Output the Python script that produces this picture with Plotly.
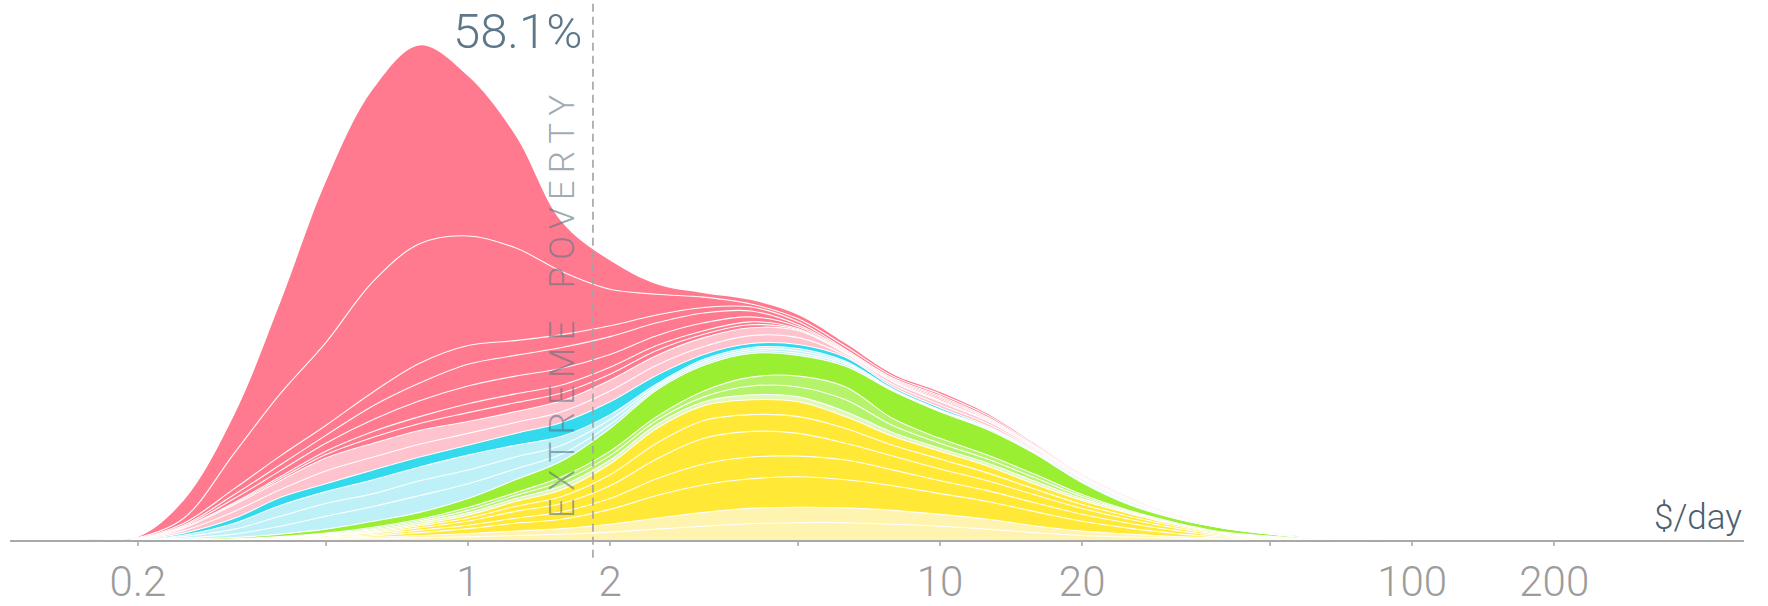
import math
import plotly.graph_objects as go

# ---------------- data ----------------
# income levels ($/day) where the stacked boundaries were read (evenly spaced on the log axis)
X = [0.13, 0.16, 0.2, 0.25, 0.32, 0.4, 0.5, 0.63, 0.79, 1.0, 1.26, 1.58, 2.0, 2.51, 3.16, 3.98, 5.01,
     6.31, 7.94, 10, 12.6, 15.8, 20, 25.1, 31.6, 39.8, 50.1, 63.1, 79.4, 100]

# cumulative heights of the stacked boundaries (bottom -> top), arbitrary density units
PALE_YELLOW_L1 = [0, 0, 0, 0.02, 0.07, 0.25, 0.7, 1.3, 2.2, 3.2, 4.5, 5.8, 8, 11, 14, 16.5, 17.5,
                  17.5, 16, 14, 11, 7.5, 4.5, 3, 1.7, 1, 0.35, 0.1, 0, 0]
PALE_YELLOW_TOP = [0, 0, 0, 0.05, 0.15, 0.5, 1.5, 2.8, 4.5, 6.5, 9, 11.5, 16, 22, 28, 32, 33,
                   32.5, 30, 26, 21, 14.5, 9, 6, 3.5, 2, 0.7, 0.2, 0, 0]
YELLOW_L3 = [0, 0, 0, 0.1, 0.25, 0.8, 2.2, 4.2, 7.5, 11.5, 17, 21, 31, 45, 56, 62, 64,
             61, 55, 47, 39, 29, 19, 12, 6.5, 3, 1, 0.3, 0, 0]
YELLOW_L2 = [0, 0, 0, 0.15, 0.35, 1.1, 3, 5.5, 10, 15, 22, 28.5, 42, 62, 77, 84, 85,
             81, 71, 60, 50, 38, 26, 17, 9.5, 4, 1.3, 0.4, 0, 0]
YELLOW_L1 = [0, 0, 0, 0.2, 0.5, 1.5, 4, 7, 12.5, 19, 29, 37, 55, 82, 103, 110, 108,
             98, 85, 72, 60, 46, 32, 21, 12, 5, 1.7, 0.5, 0, 0]
YELLOW_L0 = [0, 0, 0, 0.25, 0.6, 1.8, 4.5, 8, 14.5, 22, 34, 44, 66, 98, 121, 127, 125,
             113, 96, 82, 68, 52, 36, 24, 14, 6, 2.1, 0.6, 0.05, 0]
YELLOW_TOP = [0, 0, 0, 0.3, 0.7, 2, 5, 9, 16, 25, 39, 51, 77, 113, 136, 142, 140,
              125, 105, 90, 75, 57, 40, 27, 15.5, 7, 2.5, 0.7, 0.1, 0]
PALE_GREEN_TOP = [0, 0, 0, 0.35, 0.85, 2.5, 5.7, 10.5, 18, 27.5, 42, 55, 81, 117, 140, 147, 145,
                  130, 109, 93, 78, 60, 42, 28.5, 16.5, 7.5, 2.8, 0.8, 0.12, 0]
GREEN_L1 = [0, 0, 0, 0.42, 1.0, 3, 6.3, 11.7, 19.5, 30, 45, 59.5, 85.5, 121, 145, 156, 155,
            142, 116, 98, 82, 63.5, 44, 29.3, 17, 7.8, 3.4, 0.9, 0.15, 0]
GREEN_SOLID_BOTTOM = [0, 0, 0, 0.5, 1.2, 3.5, 7, 13, 21, 33, 48, 64, 90, 125, 151, 165, 166,
                      155, 123, 103, 86, 67, 46, 30, 17.5, 8, 4, 1.0, 0.18, 0]
GREEN_TOP = [0, 0, 0.05, 1, 2.5, 6, 11, 19, 28, 42, 61, 80, 113, 152, 177, 189, 187,
             176, 151, 130, 112, 88, 58, 36, 21.5, 12, 6, 1.6, 0.3, 0]
PALE_CYAN_L1 = [0, 0, 0.15, 2, 6, 14, 24, 34, 45, 57, 72, 87, 117, 154, 179, 191, 189,
                178, 152, 131, 113.5, 89, 59, 37, 21.8, 12.2, 6.1, 1.65, 0.3, 0]
PALE_CYAN_L2 = [0, 0, 0.25, 3.5, 11, 24, 37, 47, 60, 71, 84, 96, 122, 156, 181, 193, 191.5,
                179.5, 152.5, 131.5, 114, 89.5, 59.5, 37.5, 22.1, 12.3, 6.15, 1.7, 0.3, 0]
PALE_CYAN_TOP = [0, 0, 0.35, 5, 17, 35, 49, 61, 74, 86, 96, 105, 127, 158, 183, 195, 194,
                 181, 153, 132, 114.5, 90, 60, 38, 22.4, 12.5, 6.2, 1.75, 0.3, 0]
CYAN_TOP = [0, 0, 0.5, 7, 22, 43, 57, 71, 84, 96, 108, 119, 140, 167, 188, 199, 198,
            185, 155, 134, 115.5, 91, 61, 39, 22.8, 12.6, 6.3, 1.8, 0.3, 0]
PALE_PINK_L1 = [0, 0, 0.8, 9.5, 29, 51, 70, 84, 97, 108, 119, 130, 151, 177, 196, 207, 205,
                187, 157.5, 137, 118, 92.5, 62, 40, 23.2, 12.7, 6.4, 1.85, 0.3, 0]
PALE_PINK_TOP = [0, 0, 1, 12, 36, 60, 83, 98, 111, 120, 130, 141, 162, 187, 205, 215, 212,
                 189, 160, 140, 120.5, 94, 63, 41, 23.6, 12.8, 6.5, 1.9, 0.3, 0]
RED_LD = [0, 0, 1.2, 12.5, 37, 62, 86.5, 104, 118, 129, 139, 149, 168, 192, 208.5, 218, 213,
          189.5, 160.5, 141, 121, 94.2, 63.2, 41.1, 23.7, 12.8, 6.52, 1.92, 0.3, 0]
RED_LC = [0, 0, 1.4, 13, 38, 64, 90, 110, 125, 138, 148, 157, 175, 197, 212, 221, 214,
          190, 161, 141.5, 121.5, 94.5, 63.5, 41.2, 23.8, 12.8, 6.55, 1.94, 0.3, 0]
RED_LB = [0, 0, 1.6, 14, 42, 70, 98, 122, 141, 156, 166, 174, 188, 207, 220, 226, 216,
          191, 162, 143, 122.5, 95, 64, 41.5, 24, 12.8, 6.6, 1.96, 0.3, 0]
RED_LA = [0, 0, 1.8, 15, 46, 76, 106, 136, 159, 178, 187, 195, 206, 220, 230, 232, 218,
          192, 163, 144.5, 123.5, 95.5, 64.5, 41.7, 24.2, 12.85, 6.65, 1.98, 0.3, 0]
RED_L2 = [0, 0, 2, 17, 52, 85, 116, 150, 179, 197, 202, 208, 217, 228, 235.5, 236, 221,
          193, 164, 146, 124.5, 96, 65, 42, 24.5, 12.9, 6.7, 2, 0.3, 0]
RED_L1 = [0, 0, 2.5, 22, 88, 148, 200, 262, 300, 308, 296, 272, 254, 249, 246, 239, 224,
          196, 166, 148, 126.5, 97, 65.5, 42.5, 24.8, 12.95, 6.8, 2, 0.3, 0]
OUTER_TOP = [0, 0.3, 3, 40, 127, 240, 363, 457, 501, 470, 410, 322, 283, 259, 250, 243, 228,
             199, 168, 150, 128, 98, 66, 43, 25, 13, 7, 2, 0.3, 0]

TICK_VALS = [0.2, 1, 2, 10, 20, 100, 200]
TICK_TEXT = ["0.2", "1", "2", "10", "20", "100", "200"]
TICK_MARKS = [0.2, 0.5, 1, 2, 5, 10, 20, 50, 100, 200]
POVERTY_LINE = 1.84
SHARE_LABEL = "58.1%"
POVERTY_TEXT = "EXTREME POVERTY"
UNIT_LABEL = "$/day"

# ---------------- styling ----------------
YELLOW = "#ffe936"
PALE_YELLOW = "#fff3b0"
GREEN = "#9aef33"
GREEN_LINES = "#b4f36a"
PALE_GREEN = "#e0f8bd"
CYAN = "#33daee"
PALE_CYAN = "#bdf0f7"
RED = "#ff7a8e"
PALE_PINK = "#ffc3ce"
FONT = "Roboto"

layers = [
    (PALE_YELLOW_L1, PALE_YELLOW),
    (PALE_YELLOW_TOP, PALE_YELLOW),
    (YELLOW_L3, YELLOW),
    (YELLOW_L2, YELLOW),
    (YELLOW_L1, YELLOW),
    (YELLOW_L0, YELLOW),
    (YELLOW_TOP, YELLOW),
    (PALE_GREEN_TOP, PALE_GREEN),
    (GREEN_L1, GREEN_LINES),
    (GREEN_SOLID_BOTTOM, GREEN_LINES),
    (GREEN_TOP, GREEN),
    (PALE_CYAN_L1, PALE_CYAN),
    (PALE_CYAN_L2, PALE_CYAN),
    (PALE_CYAN_TOP, PALE_CYAN),
    (CYAN_TOP, CYAN),
    (PALE_PINK_L1, PALE_PINK),
    (PALE_PINK_TOP, PALE_PINK),
    (RED_LD, RED),
    (RED_LC, RED),
    (RED_LB, RED),
    (RED_LA, RED),
    (RED_L2, RED),
    (RED_L1, RED),
    (OUTER_TOP, RED),
]

fig = go.Figure()
for i, (ys, col) in enumerate(layers):
    last = i == len(layers) - 1
    fig.add_trace(go.Scatter(
        x=X, y=ys, mode="lines",
        line=dict(shape="spline", smoothing=1.0,
                  color="rgba(0,0,0,0)" if last else "rgba(255,255,255,0.95)",
                  width=0 if last else 1.1),
        fill="tozeroy" if i == 0 else "tonexty",
        fillcolor=col,
        hoverinfo="skip",
        showlegend=False,
    ))

fig.add_shape(type="line", xref="x", yref="paper", x0=POVERTY_LINE, x1=POVERTY_LINE,
              y0=-0.033, y1=1.0, line=dict(color="#a3a3a3", width=1.6, dash="8px,5px"), layer="above")

pov_log = math.log10(POVERTY_LINE)  # annotations on a log axis take log10 positions
fig.add_annotation(text=SHARE_LABEL, xref="x", x=pov_log, xanchor="right", xshift=-8,
                   yref="paper", y=1.0, yanchor="top", yshift=-1, showarrow=False,
                   font=dict(family=FONT, size=49, color="#5e7789", weight=300))
spaced = "\u2009".join(list(POVERTY_TEXT)).replace("\u2009 \u2009", "\u2009\u2002\u2009")
fig.add_annotation(text=spaced,
                   xref="x", x=pov_log, xanchor="center", xshift=-31,
                   yref="paper", y=0.433, yanchor="middle", textangle=-90, showarrow=False,
                   font=dict(family=FONT, size=35, color="rgba(95,115,132,0.62)", weight=300))
fig.add_annotation(text=UNIT_LABEL, xref="paper", x=1.0, xanchor="right", xshift=0,
                   yref="paper", y=0.0, yanchor="bottom", yshift=0, showarrow=False,
                   font=dict(family=FONT, size=35, color="#4b6070", weight=300))

fig.update_layout(
    width=1768, height=606,
    margin=dict(l=10, r=24, t=0, b=59),
    paper_bgcolor="white", plot_bgcolor="white",
    showlegend=False,
    xaxis=dict(type="log", range=[-0.970, 2.703],
               tickmode="array", tickvals=TICK_VALS, ticktext=TICK_TEXT,
               showgrid=False, zeroline=False,
               showline=True, linecolor="#a9a9a9", linewidth=2,
               ticks="", ticklabelstandoff=4,
               tickfont=dict(family=FONT, size=42, color="#9c9c9c", weight=300),
               minor=dict(tickmode="array", tickvals=TICK_MARKS, ticks="outside",
                          ticklen=4, tickwidth=1.5, tickcolor="#bdbdbd", showgrid=False)),
    yaxis=dict(range=[0, 547], visible=False, fixedrange=True),
)

fig.write_html("out.html",
               config={"displayModeBar": False},
               post_script="document.body.style.margin='0';document.body.style.padding='0';"
                           "document.body.style.overflow='hidden';")
